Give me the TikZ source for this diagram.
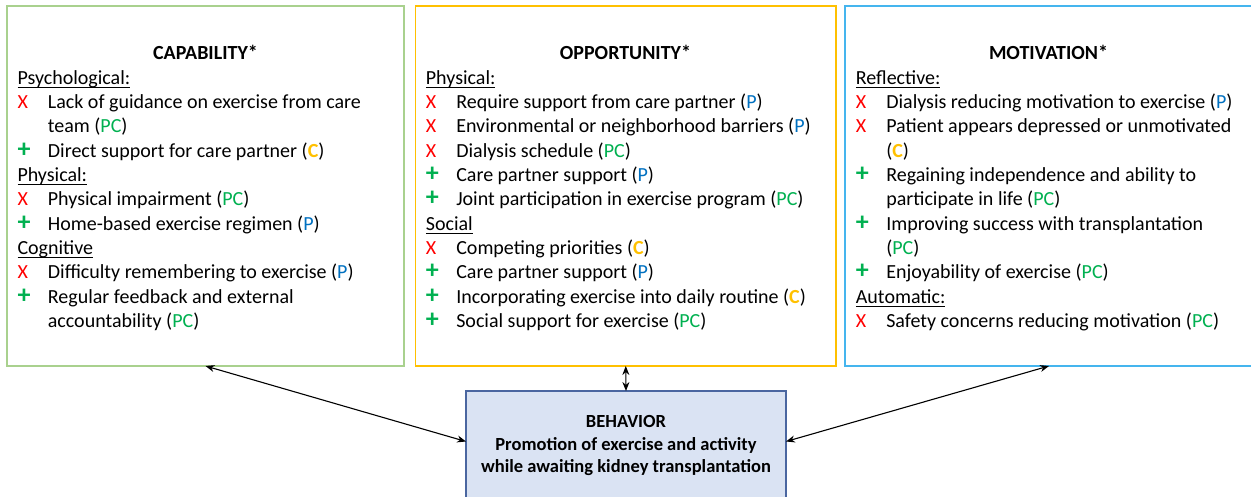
\documentclass[tikz,border=0pt]{standalone}
\usepackage{fontspec}
\setmainfont{Carlito}
\usetikzlibrary{arrows.meta}
\definecolor{capgreen}{HTML}{A9D18E}
\definecolor{oppgold}{HTML}{FFC000}
\definecolor{motblue}{HTML}{45B5EE}
\definecolor{behfill}{HTML}{DAE3F3}
\definecolor{behline}{HTML}{4A66A0}
\definecolor{xred}{HTML}{FF0000}
\definecolor{pgreen}{HTML}{00B050}
\definecolor{tblue}{HTML}{0070C0}
\definecolor{torange}{HTML}{FFC000}
\newcommand\hd[1]{\setbox0\hbox{#1}\rlap{\rule[-4pt]{\wd0}{1pt}}\box0}
\newcommand\mkx{\textcolor{xred}{X}}
\newcommand\mkp{\textcolor{pgreen}{\fontsize{26}{26}\selectfont\bfseries +}}
\newcommand\tP{(\textcolor{tblue}{P})}
\newcommand\tPC{(\textcolor{pgreen}{PC})}
\newcommand\tC{(\textcolor{torange}{\bfseries C})}
\newcommand\itm[5]{%
  \node[mkbox] (#1m) at (#2,{84+24.35*#3}) {#4};
  \node[txt] (#1) at (#2+30.4,{84+24.35*#3}) {#5};}
\newcommand\cnt[4]{\node[txt] (#1) at (#2+30.4,{84+24.35*#3}) {#4};}
\newcommand\hdl[4]{\node[txt] (#1) at (#2,{84+24.35*#3}) {\hd{#4}};}
\begin{document}
\begin{tikzpicture}[x=1pt,y=-1pt,
  txt/.style={anchor=base west,inner sep=0pt,font=\fontsize{20}{24.4}\selectfont},
  mkbox/.style={anchor=base west,inner sep=0pt,font=\fontsize{20}{24.4}\selectfont},
  ttl/.style={anchor=base,inner sep=0pt,font=\fontsize{20}{24}\selectfont\bfseries},
  panel/.style={rectangle,draw,line width=1.5pt,inner sep=0pt,outer sep=0pt},
  behbox/.style={rectangle,draw=behline,fill=behfill,line width=1.6pt,inner sep=0pt,outer sep=0pt,
    align=center,font=\fontsize{18.5}{22.6}\selectfont\bfseries},
  arr/.style={{Stealth[length=9pt,width=7pt]}-{Stealth[length=9pt,width=7pt]},line width=1.1pt,black}]
\useasboundingbox (0,0) rectangle (1251,496);
\node[panel,draw=capgreen,minimum width=397pt,minimum height=360pt] (cap) at (205.5,186) {};
\node[panel,draw=oppgold,minimum width=420.5pt,minimum height=360pt] (opp) at (625.75,186) {};
\node[panel,draw=motblue,minimum width=408pt,minimum height=360pt] (mot) at (1049,186) {};
\node[behbox,minimum width=320pt,minimum height=109pt] (beh) at (626,445.5)
  {BEHAVIOR\\Promotion of exercise and activity\\while awaiting kidney transplantation};
\node[ttl] (capt) at (205.5,59) {CAPABILITY*};
\node[ttl] (oppt) at (625.5,59) {OPPORTUNITY*};
\node[ttl] (mott) at (1048.5,59) {MOTIVATION*};
% Capability
\hdl{c0}{17.3}{0}{Psychological:}
\itm{c1}{17.3}{1}{\mkx}{Lack of guidance on exercise from care}
\cnt{c2}{17.3}{2}{team \tPC}
\itm{c3}{17.3}{3}{\mkp}{Direct support for care partner \tC}
\hdl{c4}{17.3}{4}{Physical:}
\itm{c5}{17.3}{5}{\mkx}{Physical impairment \tPC}
\itm{c6}{17.3}{6}{\mkp}{Home-based exercise regimen \tP}
\hdl{c7}{17.3}{7}{Cognitive}
\itm{c8}{17.3}{8}{\mkx}{Difficulty remembering to exercise \tP}
\itm{c9}{17.3}{9}{\mkp}{Regular feedback and external}
\cnt{c10}{17.3}{10}{accountability \tPC}
% Opportunity
\hdl{o0}{425.7}{0}{Physical:}
\itm{o1}{425.7}{1}{\mkx}{Require support from care partner \tP}
\itm{o2}{425.7}{2}{\mkx}{Environmental or neighborhood barriers \tP}
\itm{o3}{425.7}{3}{\mkx}{Dialysis schedule \tPC}
\itm{o4}{425.7}{4}{\mkp}{Care partner support \tP}
\itm{o5}{425.7}{5}{\mkp}{Joint participation in exercise program \tPC}
\hdl{o6}{425.7}{6}{Social}
\itm{o7}{425.7}{7}{\mkx}{Competing priorities \tC}
\itm{o8}{425.7}{8}{\mkp}{Care partner support \tP}
\itm{o9}{425.7}{9}{\mkp}{Incorporating exercise into daily routine \tC}
\itm{o10}{425.7}{10}{\mkp}{Social support for exercise \tPC}
% Motivation
\hdl{m0}{855.7}{0}{Reflective:}
\itm{m1}{855.7}{1}{\mkx}{Dialysis reducing motivation to exercise \tP}
\itm{m2}{855.7}{2}{\mkx}{Patient appears depressed or unmotivated}
\cnt{m3}{855.7}{3}{\tC}
\itm{m4}{855.7}{4}{\mkp}{Regaining independence and ability to}
\cnt{m5}{855.7}{5}{participate in life \tPC}
\itm{m6}{855.7}{6}{\mkp}{Improving success with transplantation}
\cnt{m7}{855.7}{7}{\tPC}
\itm{m8}{855.7}{8}{\mkp}{Enjoyability of exercise \tPC}
\hdl{m9}{855.7}{9}{Automatic:}
\itm{m10}{855.7}{10}{\mkx}{Safety concerns reducing motivation \tPC}
% connectors
\draw[arr] (cap.south) -- ([yshift=4pt]beh.west);
\draw[arr] (opp.south) -- (beh.north);
\draw[arr] (mot.south) -- ([yshift=4pt]beh.east);
\end{tikzpicture}
\end{document}
